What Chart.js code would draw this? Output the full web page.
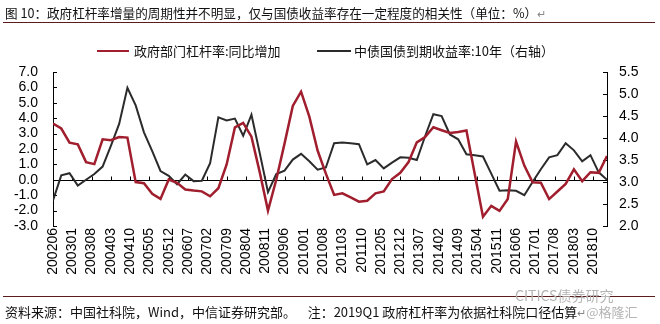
<!DOCTYPE html>
<html>
<head>
<meta charset="utf-8">
<script src="https://cdn.jsdelivr.net/npm/chart.js@4"></script>
<style>
  body { margin: 0; background: #fff; }
  #wrap { position: relative; width: 660px; height: 324px; background: #fff; overflow: hidden; }
  #c { position: absolute; left: 0; top: 0; }
  .cjk { font-family: "Noto Sans CJK SC", "Noto Sans", sans-serif; color: #111; white-space: nowrap; position: absolute; }
  .title { left: 5px; top: 4px; font-size: 12.6px; line-height: 17px; }
  .rule { position: absolute; left: 3px; width: 652px; height: 0; border-top: 1.5px solid #5b1c1c; }
  .lg-line { position: absolute; height: 0; }
  .lg-text { top: 43px; font-size: 13px; line-height: 16px; }
  .note { left: 5px; top: 303px; font-size: 13px; line-height: 17px; }
  .ret { color: #888; font-size: 11px; }
  .wm { color: #b5b5b5; }
</style>
</head>
<body>
<div id="wrap">
  <canvas id="c" width="660" height="324"></canvas>
  <div class="cjk title">图 10：政府杠杆率增量的周期性并不明显，仅与国债收益率存在一定程度的相关性（单位：%）<span class="ret">↵</span></div>
  <div class="rule" style="top:22px"></div>
  <div class="lg-line" style="left:97px;top:50px;width:32px;border-top:2.5px solid #a01e2d"></div>
  <div class="cjk lg-text" style="left:134px">政府部门杠杆率:同比增加</div>
  <div class="lg-line" style="left:317px;top:50px;width:34px;border-top:2.5px solid #2b2b2b"></div>
  <div class="cjk lg-text" style="left:354px">中债国债到期收益率:10年（右轴）</div>
  <div class="rule" style="top:296px"></div>
  <div class="cjk wm" style="left:515px;top:287px;font-size:14px;line-height:16px">CITICS债券研究</div>
  <div class="cjk note">资料来源：中国社科院，Wind，中信证券研究部。&nbsp;&nbsp;&nbsp; 注：2019Q1 政府杠杆率为依据社科院口径估算<span class="ret">↵</span><span class="wm">@格隆汇</span></div>
</div>
<script>
// quarterly observations, 2002Q2 .. 2019Q1
const quarters = [
  '200206','200209','200212',
  '200303','200306','200309','200312',
  '200403','200406','200409','200412',
  '200503','200506','200509','200512',
  '200603','200606','200609','200612',
  '200703','200706','200709','200712',
  '200803','200806','200809','200812',
  '200903','200906','200909','200912',
  '201003','201006','201009','201012',
  '201103','201106','201109','201112',
  '201203','201206','201209','201212',
  '201303','201306','201309','201312',
  '201403','201406','201409','201412',
  '201503','201506','201509','201512',
  '201603','201606','201609','201612',
  '201703','201706','201709','201712',
  '201803','201806','201809','201812',
  '201903'
];

// 政府部门杠杆率:同比增加 (left axis)
const govLeverage = [
  3.65, 3.33, 2.41, 2.30, 1.15, 1.02, 2.63, 2.57, 2.78, 2.74,
  -0.15, -0.22, -0.91, -1.24, 0.02, -0.20, -0.63, -0.70, -0.75, -1.07,
  -0.55, 1.00, 3.40, 3.70, 2.80, 0.50, -2.00, 0.00, 2.35, 4.80,
  5.72, 4.10, 1.90, 0.40, -0.98, -0.88, -1.14, -1.42, -1.36, -0.88,
  -0.76, 0.05, 0.45, 1.15, 2.43, 2.78, 3.41, 3.22, 3.04, 3.11,
  3.20, 0.40, -2.40, -1.69, -2.02, -1.25, 2.48, 0.92, -0.16, -0.19,
  -1.25, -0.76, -0.27, 0.68, -0.09, 0.49, 0.45, 1.55
];

// 中债国债到期收益率:10年 (right axis)
const cgb10y = [
  2.58, 3.15, 3.20, 2.92, 3.05, 3.18, 3.35, 3.82, 4.32, 5.14,
  4.74, 4.13, 3.70, 3.25, 3.14, 2.95, 3.17, 3.02, 3.03, 3.43,
  4.47, 4.40, 4.44, 4.05, 4.53, 3.66, 2.77, 3.18, 3.26, 3.51,
  3.64, 3.47, 3.28, 3.33, 3.88, 3.90, 3.88, 3.86, 3.40, 3.50,
  3.31, 3.44, 3.56, 3.55, 3.50, 4.04, 4.54, 4.50, 4.08, 3.97,
  3.63, 3.61, 3.58, 3.19, 2.80, 2.81, 2.80, 2.70, 3.00, 3.29,
  3.56, 3.61, 3.88, 3.72, 3.47, 3.61, 3.22, 3.05
];

// x axis labels, every 7 months from 200206
const tickLabels = [
  '200206','200301','200308','200403','200410','200505','200512','200607',
  '200702','200709','200804','200811','200906','201001','201008','201103',
  '201110','201205','201212','201307','201402','201409','201504','201511',
  '201606','201701','201708','201803','201810'
];

// month offset from 200206
function monthIndex(p) {
  return (parseInt(p.slice(0, 4)) - 2002) * 12 + (parseInt(p.slice(4)) - 6);
}
const toPoints = vals => vals.map((v, i) => ({ x: monthIndex(quarters[i]), y: v }));

const tickFont = { family: '"Liberation Sans", Arial, sans-serif', size: 14 };

// zero line on the left axis plus inward tick marks
const axisMarks = {
  id: 'axisMarks',
  beforeDatasetsDraw(chart) {
    const { ctx, chartArea, scales } = chart;
    const zeroY = Math.round(scales.y.getPixelForValue(0)) + 0.5;
    ctx.save();
    ctx.strokeStyle = '#000';
    ctx.lineWidth = 1;
    ctx.beginPath();
    ctx.moveTo(chartArea.left, zeroY);
    ctx.lineTo(chartArea.right, zeroY);
    scales.x.ticks.forEach(t => {
      const px = Math.round(scales.x.getPixelForValue(t.value)) + 0.5;
      ctx.moveTo(px, zeroY);
      ctx.lineTo(px, zeroY - 4);
    });
    scales.y.ticks.forEach(t => {
      const py = Math.round(scales.y.getPixelForValue(t.value)) + 0.5;
      ctx.moveTo(chartArea.left, py);
      ctx.lineTo(chartArea.left + 4, py);
    });
    scales.y1.ticks.forEach(t => {
      const py = Math.round(scales.y1.getPixelForValue(t.value)) + 0.5;
      ctx.moveTo(chartArea.right, py);
      ctx.lineTo(chartArea.right - 4, py);
    });
    ctx.stroke();
    ctx.restore();
  }
};

new Chart(document.getElementById('c'), {
  type: 'line',
  data: {
    datasets: [
      {
        label: '政府部门杠杆率:同比增加',
        data: toPoints(govLeverage),
        borderColor: '#a01e2d',
        borderWidth: 2.5,
        yAxisID: 'y'
      },
      {
        label: '中债国债到期收益率:10年（右轴）',
        data: toPoints(cgb10y),
        borderColor: '#2b2b2b',
        borderWidth: 2,
        yAxisID: 'y1'
      }
    ]
  },
  options: {
    responsive: false,
    animation: false,
    layout: { padding: { top: 72, right: 0, bottom: 0, left: 0 } },
    elements: { point: { radius: 0 }, line: { tension: 0, fill: false } },
    plugins: { legend: { display: false }, tooltip: { enabled: false } },
    scales: {
      x: {
        type: 'linear',
        min: 0,
        max: 201,
        grid: { display: false, drawTicks: false },
        border: { display: false },
        ticks: {
          stepSize: 7,
          autoSkip: false,
          includeBounds: false,
          minRotation: 90,
          maxRotation: 90,
          padding: 2,
          color: '#000',
          font: tickFont,
          callback: v => tickLabels[Math.round(v / 7)]
        },
        afterFit: s => { s.height = 98; }
      },
      y: {
        position: 'left',
        min: -3,
        max: 7,
        grid: { display: false, drawTicks: false },
        border: { display: true, color: '#000', width: 1 },
        ticks: { stepSize: 1, autoSkip: false, padding: 15, color: '#000', font: tickFont, callback: v => v.toFixed(1) },
        afterFit: s => { s.width = 53; }
      },
      y1: {
        position: 'right',
        min: 2,
        max: 5.5,
        grid: { display: false, drawTicks: false },
        border: { display: true, color: '#000', width: 1 },
        ticks: { stepSize: 0.5, autoSkip: false, padding: 12, color: '#000', font: tickFont, callback: v => v.toFixed(1) },
        afterFit: s => { s.width = 53; }
      }
    }
  },
  plugins: [axisMarks]
});
</script>
</body>
</html>
